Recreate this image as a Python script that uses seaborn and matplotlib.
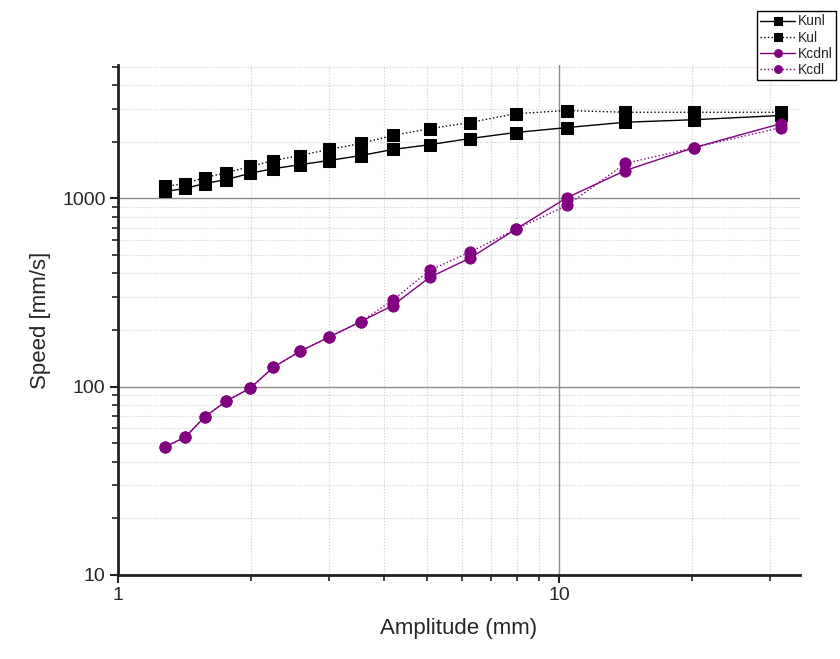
import matplotlib
matplotlib.use("Agg")
import matplotlib.pyplot as plt
import matplotlib.ticker as mticker
import seaborn as sns
import pandas as pd
import numpy as np

amplitude = [1.28, 1.42, 1.57, 1.76, 1.99, 2.25, 2.58, 3.0, 3.55, 4.19,
             5.08, 6.26, 7.95, 10.4, 14.1, 20.2, 31.8]
kunl = [1090, 1130, 1200, 1260, 1360, 1440, 1510, 1590, 1690, 1820,
        1930, 2080, 2240, 2380, 2540, 2620, 2760]
kul = [1160, 1200, 1290, 1370, 1480, 1590, 1690, 1820, 1960, 2160,
       2350, 2530, 2820, 2930, 2870, 2870, 2870]
kcdnl = [48, 54, 69, 84, 98, 127, 154, 183, 222, 270,
         381, 481, 685, 1010, 1407, 1864, 2500]
kcdl = [48, 54, 69, 84, 98, 127, 154, 183, 222, 288,
        415, 518, 685, 918, 1534, 1864, 2380]

series_names = ["Kunl", "Kul", "Kcdnl", "Kcdl"]
series_vals = [kunl, kul, kcdnl, kcdl]
colors = ["black", "black", "#800080", "#800080"]
markers = ["s", "s", "o", "o"]
styles = ["-", ":", "-", ":"]
msizes = [9, 9, 8, 8]

sns.set_theme(style="white")
plt.rcParams["font.family"] = ["Liberation Sans", "DejaVu Sans"]

fig = plt.figure(figsize=(8.4, 6.59), dpi=100)
ax = fig.add_axes([0.1405, 0.1275, 0.952 - 0.1405, 0.901 - 0.1275])

for name, vals, c, m, ls, ms in zip(series_names, series_vals, colors, markers, styles, msizes):
    df = pd.DataFrame({"x": amplitude, "y": vals})
    sns.lineplot(data=df, x="x", y="y", ax=ax, color=c, marker=m, linestyle=ls,
                 markersize=ms, markeredgecolor=c, linewidth=1.0, label=name)

ax.set_xscale("log")
ax.set_yscale("log")
ax.set_xlim(1, 35)
ax.set_ylim(10, 5100)

ax.xaxis.set_major_locator(mticker.LogLocator(base=10))
ax.yaxis.set_major_locator(mticker.LogLocator(base=10))
ax.xaxis.set_minor_locator(mticker.LogLocator(base=10, subs=np.arange(2, 10)))
ax.yaxis.set_minor_locator(mticker.LogLocator(base=10, subs=np.arange(2, 10)))
ax.xaxis.set_major_formatter(mticker.FuncFormatter(lambda v, p: f"{v:g}"))
ax.yaxis.set_major_formatter(mticker.FuncFormatter(lambda v, p: f"{v:g}"))
ax.xaxis.set_minor_formatter(mticker.NullFormatter())
ax.yaxis.set_minor_formatter(mticker.NullFormatter())

ax.grid(True, which="major", color="#8c8c8c", linewidth=1.0, linestyle="-")
ax.grid(True, which="minor", color="#cccccc", linewidth=0.8, linestyle=":")
ax.set_axisbelow(True)

for s in ["top", "right"]:
    ax.spines[s].set_visible(False)
for s in ["left", "bottom"]:
    ax.spines[s].set_color("#222222")
    ax.spines[s].set_linewidth(2.0)

ax.tick_params(which="major", direction="out", length=6, width=1.5, color="#222222",
               labelsize=14, left=True, bottom=True, pad=3)
ax.tick_params(which="minor", direction="out", length=4, width=1.2, color="#222222",
               left=True, bottom=True)

ax.set_xlabel("Amplitude (mm)", fontsize=16, labelpad=10)
ax.set_ylabel("Speed [mm/s]", fontsize=16, labelpad=8)

leg = ax.legend(loc="upper left", bbox_to_anchor=(750 / 840, 1 - 4 / 659),
                bbox_transform=fig.transFigure, fontsize=10, frameon=True,
                fancybox=False, edgecolor="black", framealpha=1,
                handlelength=2.5, handletextpad=0.2, borderpad=0.25,
                labelspacing=0.15, markerscale=0.7)
leg.get_frame().set_linewidth(1.0)

fig.savefig("out.png", dpi=100)
